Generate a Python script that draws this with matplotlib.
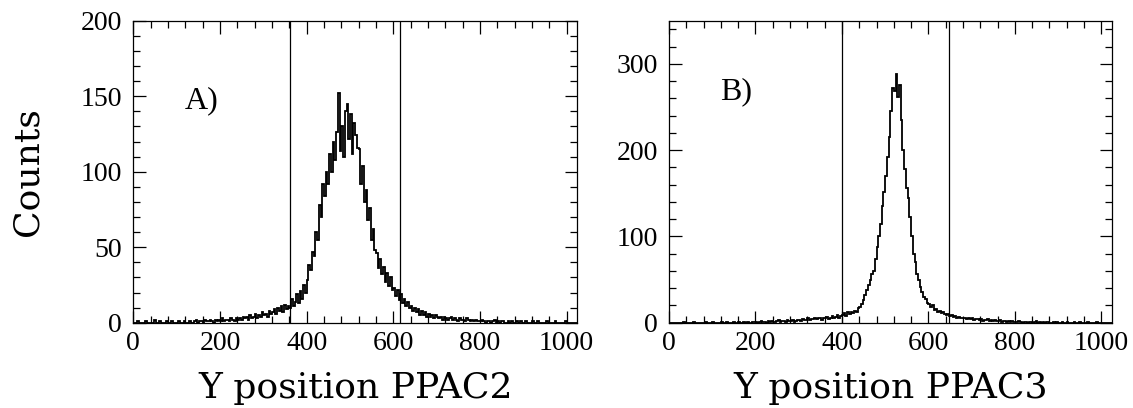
import numpy as np
import matplotlib
matplotlib.use("Agg")
import matplotlib.pyplot as plt
from matplotlib.ticker import MultipleLocator

# ---------------- data ----------------
bin_width = 4          # channels per bin
x_max = 1024

# PPAC2 Y-position histogram, one value per 4-channel bin (10 bins per row = 40 channels)
counts_a = [0, 0, 1, 0, 0, 0, 0, 1, 0, 0,
            0, 0, 2, 0, 0, 1, 0, 0, 0, 1,
            0, 0, 1, 0, 0, 0, 1, 0, 0, 1,
            0, 0, 1, 0, 0, 1, 2, 0, 1, 1,
            0, 2, 1, 1, 2, 1, 0, 2, 1, 2,
            1, 3, 1, 2, 2, 1, 3, 2, 1, 3,
            2, 3, 2, 4, 3, 4, 2, 5, 3, 4,
            6, 3, 5, 4, 7, 5, 6, 4, 8, 6,
            7, 9, 6, 10, 8, 11, 7, 12, 9, 11,
            10, 16, 11, 14, 19, 13, 21, 16, 25, 20,
            28, 38, 35, 47, 44, 60, 55, 78, 70, 92,
            84, 100, 92, 112, 100, 120, 108, 126, 152, 114,
            130, 110, 140, 145, 122, 138, 112, 132, 124, 116,
            115, 92, 104, 80, 88, 68, 76, 55, 62, 48,
            46, 36, 42, 32, 37, 27, 33, 24, 30, 22,
            23, 18, 22, 15, 19, 13, 16, 11, 14, 10,
            11, 8, 10, 7, 9, 5, 8, 5, 7, 4,
            6, 4, 5, 3, 5, 4, 3, 4, 2, 4,
            3, 2, 3, 4, 2, 3, 2, 1, 3, 2,
            2, 1, 3, 2, 1, 2, 1, 2, 1, 1,
            1, 2, 1, 0, 1, 1, 0, 1, 2, 0,
            1, 0, 1, 1, 0, 0, 1, 0, 1, 0,
            0, 1, 0, 1, 0, 0, 1, 0, 0, 0,
            1, 0, 0, 1, 0, 0, 0, 0, 1, 0,
            0, 0, 0, 1, 0, 0, 0, 0, 0, 1,
            0, 0, 0, 0, 0, 0]

# PPAC3 Y-position histogram, one value per 4-channel bin
counts_b = [0, 0, 0, 0, 0, 0, 0, 0, 1, 0,
            0, 0, 0, 0, 1, 0, 0, 0, 0, 0,
            0, 1, 0, 0, 0, 1, 0, 0, 0, 0,
            1, 0, 0, 1, 0, 0, 0, 1, 0, 0,
            1, 0, 0, 1, 0, 1, 0, 0, 1, 1,
            1, 0, 1, 2, 1, 1, 0, 2, 1, 2,
            1, 1, 2, 3, 1, 2, 2, 1, 3, 2,
            2, 3, 1, 2, 3, 3, 2, 4, 3, 3,
            5, 3, 4, 4, 6, 4, 5, 5, 3, 6,
            5, 7, 4, 6, 8, 6, 7, 9, 6, 8,
            9, 11, 8, 12, 10, 13, 11, 14, 12, 17,
            18, 22, 26, 32, 38, 44, 50, 56, 60, 74,
            88, 100, 114, 135, 152, 170, 192, 215, 245, 272,
            268, 288, 262, 275, 235, 200, 178, 156, 145, 122,
            100, 80, 70, 56, 50, 41, 36, 30, 28, 23,
            22, 18, 20, 15, 16, 13, 14, 11, 12, 10,
            9, 10, 8, 9, 7, 8, 6, 7, 5, 6,
            5, 6, 4, 5, 4, 5, 3, 4, 4, 3,
            4, 2, 3, 3, 4, 2, 3, 2, 3, 2,
            2, 3, 1, 2, 2, 1, 2, 1, 2, 1,
            1, 1, 2, 1, 0, 1, 1, 0, 1, 1,
            0, 1, 2, 0, 1, 0, 1, 0, 1, 1,
            0, 0, 1, 0, 1, 0, 0, 1, 0, 0,
            1, 0, 0, 0, 1, 0, 0, 1, 0, 0,
            0, 0, 1, 0, 0, 0, 0, 1, 0, 0,
            0, 0, 0, 0, 0, 0]

cuts_a = [362, 616]
cuts_b = [399, 647]
panel_labels = ["A)", "B)"]
x_titles = ["Y position PPAC2", "Y position PPAC3"]
y_title = "Counts"
y_max = [200, 350]
y_major = [50, 100]
y_minor = [10, 20]
label_pos = [(119, 147), (118, 268)]

# ---------------- figure ----------------
plt.rcParams["font.family"] = ["Liberation Serif", "DejaVu Serif"]
fig = plt.figure(figsize=(11.33, 4.08), dpi=100)

axes_rects = [[0.1177, 0.209, 0.3916, 0.7402],
              [0.5905, 0.209, 0.3907, 0.7402]]

edges = np.arange(0, x_max + bin_width, bin_width)
datasets = [counts_a, counts_b]
cuts = [cuts_a, cuts_b]

for k in range(2):
    ax = fig.add_axes(axes_rects[k])
    ax.stairs(datasets[k], edges, color="black", linewidth=1.3)
    for c in cuts[k]:
        ax.axvline(c, color="black", linewidth=0.9)
    ax.set_xlim(0, x_max)
    ax.set_ylim(0, y_max[k])
    ax.xaxis.set_major_locator(MultipleLocator(200))
    ax.xaxis.set_minor_locator(MultipleLocator(40))
    ax.yaxis.set_major_locator(MultipleLocator(y_major[k]))
    ax.yaxis.set_minor_locator(MultipleLocator(y_minor[k]))
    ax.tick_params(axis="both", which="both", direction="in", top=True, right=True,
                   width=0.9, labelsize=20)
    ax.tick_params(axis="x", which="major", length=9, pad=6)
    ax.tick_params(axis="x", which="minor", length=5)
    ax.tick_params(axis="y", which="major", length=9, pad=8)
    ax.tick_params(axis="y", which="minor", length=5)
    for s in ax.spines.values():
        s.set_linewidth(0.9)
    ax.text(label_pos[k][0], label_pos[k][1], panel_labels[k], fontsize=23,
            va="center", ha="left")
    ax.set_xlabel(x_titles[k], fontsize=26, family="DejaVu Serif", labelpad=11)

fig.text(0.024, 0.58, y_title, rotation=90, fontsize=26, family="DejaVu Serif",
         va="center", ha="center")

fig.savefig("out.png", dpi=100)
